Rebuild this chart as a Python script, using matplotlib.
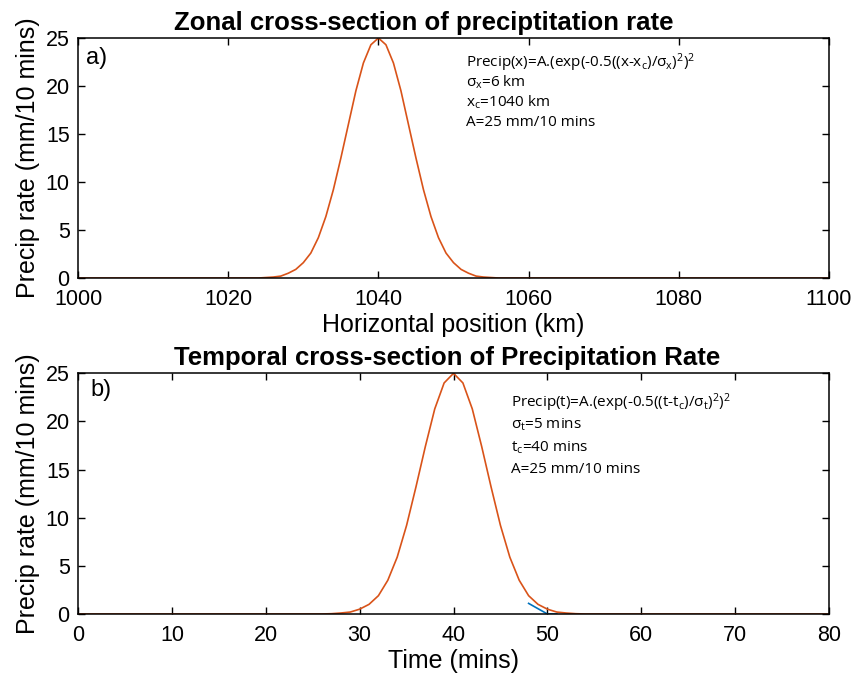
import numpy as np
import matplotlib
matplotlib.use("Agg")
import matplotlib.pyplot as plt

x_km = [1000, 1024, 1025, 1026, 1027, 1028, 1029, 1030, 1031, 1032, 1033, 1034,
        1035, 1036, 1037, 1038, 1039, 1040, 1041, 1042, 1043, 1044, 1045,
        1046, 1047, 1048, 1049, 1050, 1051, 1052, 1053, 1054, 1055, 1056, 1100]
precip_x = [0.0, 0.0, 0.05, 0.1, 0.2, 0.5, 0.9, 1.6, 2.6, 4.2, 6.4, 9.2,
            12.5, 16.0, 19.5, 22.4, 24.3, 25.0, 24.3, 22.4, 19.5, 16.0, 12.5,
            9.2, 6.4, 4.2, 2.6, 1.6, 0.9, 0.5, 0.2, 0.1, 0.05, 0.0, 0.0]

# Temporal cross-section, sampled every 1 min
t_min = [0, 26, 27, 28, 29, 30, 31, 32, 33, 34, 35, 36, 37, 38, 39, 40,
         41, 42, 43, 44, 45, 46, 47, 48, 49, 50, 51, 52, 53, 54, 80]
precip_t = [0.0, 0.0, 0.03, 0.1, 0.2, 0.5, 1.0, 1.9, 3.5, 5.9, 9.2, 13.2,
            17.4, 21.3, 24.0, 25.0, 24.0, 21.3, 17.4, 13.2, 9.2, 5.9, 3.5,
            1.9, 1.0, 0.5, 0.2, 0.1, 0.03, 0.0, 0.0]

# short blue segment peeking out under the orange curve
t_blue = [48, 50, 51]
precip_blue = [1.1, 0.0, 0.0]

orange = "#D95319"
blue = "#0072BD"

plt.rcParams["font.family"] = ["Liberation Sans", "DejaVu Sans"]
plt.rcParams["mathtext.fontset"] = "custom"
plt.rcParams["mathtext.rm"] = "Open Sans"
plt.rcParams["mathtext.it"] = "Open Sans"

fig = plt.figure(figsize=(8.64, 6.73), dpi=100)
ax1 = fig.add_axes([0.0903, 0.5869, 0.8692, 0.3566])
ax2 = fig.add_axes([0.0903, 0.0877, 0.8692, 0.3576])

note_font = ["Open Sans", "DejaVu Sans"]


def style(ax):
    ax.tick_params(direction="in", length=5, width=1, top=True, right=True,
                   labelsize=15.5)
    ax.tick_params(axis="x", pad=8)
    ax.tick_params(axis="y", pad=6)
    for s in ax.spines.values():
        s.set_linewidth(1.1)
    ax.set_ylim(0, 25)
    ax.set_yticks([0, 5, 10, 15, 20, 25])
    ax.set_ylabel("Precip rate (mm/10 mins)", fontsize=18, labelpad=4)


# a) zonal
ax1.plot(x_km, precip_x, color=orange, lw=1.2)
ax1.set_xlim(1000, 1100)
ax1.set_xticks([1000, 1020, 1040, 1060, 1080, 1100])
style(ax1)
ax1.set_xlabel("Horizontal position (km)", fontsize=18, labelpad=2)
ax1.set_title("Zonal cross-section of preciptitation rate", fontsize=18.5,
              fontweight="bold", pad=6, x=0.461)
ax1.text(1001.1, 22.9, "a)", fontsize=17, va="center")
notes_a = [
    r"Precip(x)=A.(exp(-0.5((x-x$_c$)/$\sigma_x$)$^2$)$^2$",
    r"$\sigma_x$=6 km",
    r"x$_c$=1040 km",
    "A=25 mm/10 mins",
]
for i, s in enumerate(notes_a):
    ax1.text(1051.6, 22.4 - 2.05 * i, s, fontsize=11, family=note_font,
             va="center")

# b) temporal
ax2.plot(t_blue, precip_blue, color=blue, lw=1.2)
ax2.plot(t_min, precip_t, color=orange, lw=1.2)
ax2.set_xlim(0, 80)
ax2.set_xticks(np.arange(0, 81, 10))
style(ax2)
ax2.set_xlabel("Time (mins)", fontsize=18, labelpad=2)
ax2.set_title("Temporal cross-section of Precipitation Rate", fontsize=18.5,
              fontweight="bold", pad=6, x=0.491)
ax2.text(1.3, 23.3, "b)", fontsize=17, va="center")
notes_b = [
    r"Precip(t)=A.(exp(-0.5((t-t$_c$)/$\sigma_t$)$^2$)$^2$",
    r"$\sigma_t$=5 mins",
    r"t$_c$=40 mins",
    "A=25 mm/10 mins",
]
for i, s in enumerate(notes_b):
    ax2.text(46.1, 21.9 - 2.3 * i, s, fontsize=11, family=note_font,
             va="center")

fig.savefig("out.png", dpi=100)
